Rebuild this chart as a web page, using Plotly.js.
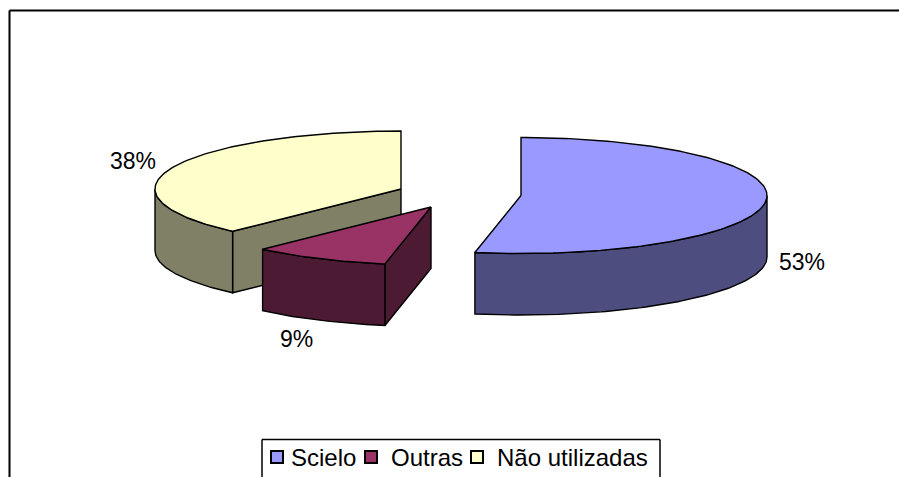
<!DOCTYPE html>
<html>
<head>
<meta charset="utf-8">
<script src="https://cdn.plot.ly/plotly-3.0.1.min.js"></script>
<style>
html,body{margin:0;padding:0;background:#fff;overflow:hidden}
#chart{width:899px;height:477px}
.legend .legendsymbols{transform:translateX(6px)}
</style>
</head>
<body>
<div id="chart"></div>
<script>
var categories = ["Scielo", "Outras", "Não utilizadas"];
var values = [53, 9, 38];
var topColors = ["#9999FF", "#993366", "#FFFFCC"];
var wallColors = ["#4D4D80", "#4D1A33", "#808066"];

// Drawing geometry of the exploded, tilted pie
var apexX = [521, 431, 401];
var apexY = [195.5, 207, 189];
var radiusX = 246, radiusY = 58, depth = 61.5;
var labelX = [802, 296, 133];
var labelY = [262, 339, 161];
var legendX = [251, 351, 457];
var plotBottom = 447;

function pt(i, a, d) {
  return [apexX[i] + radiusX * Math.sin(a), apexY[i] - radiusY * Math.cos(a) + (d || 0)];
}
function arc(i, a0, a1, d) {
  var out = [], n = Math.max(2, Math.ceil(Math.abs(a1 - a0) / 0.02));
  for (var k = 0; k <= n; k++) out.push(pt(i, a0 + (a1 - a0) * k / n, d));
  return out;
}
function face(points, color) {
  return {
    type: "scatter", mode: "lines", fill: "toself", fillcolor: color,
    x: points.map(function (p) { return p[0]; }),
    y: points.map(function (p) { return p[1]; }),
    line: { color: "#000", width: 1.4, shape: "linear" },
    hoverinfo: "skip", showlegend: false
  };
}

var total = values.reduce(function (a, b) { return a + b; }, 0);
var start = [], acc = 0;
values.forEach(function (v) { start.push(acc / total * 2 * Math.PI); acc += v; });
function endOf(i) { return start[i] + values[i] / total * 2 * Math.PI; }

function sliceFaces(i) {
  var a0 = start[i], a1 = endOf(i), fs = [];
  var apex = [apexX[i], apexY[i]], apexLow = [apexX[i], apexY[i] + depth];
  // radial cut wall that faces the viewer
  if (i === 1 || i === 2) {
    var p = pt(i, a0), q = pt(i, a0, depth);
    fs.push(face([apex, p, q, apexLow, apex], wallColors[i]));
  }
  // outer wall: the front half of the rim
  var w0 = Math.max(a0, Math.PI / 2), w1 = Math.min(a1, Math.PI * 1.5);
  if (w1 > w0) {
    var rim = arc(i, w0, w1).concat(arc(i, w1, w0, depth));
    rim.push(rim[0]);
    fs.push(face(rim, wallColors[i]));
  }
  // top
  var top = [apex].concat(arc(i, a0, a1));
  top.push(apex);
  fs.push(face(top, topColors[i]));
  return fs;
}

var traces = [];
[2, 1, 0].forEach(function (i) { traces = traces.concat(sliceFaces(i)); });
var legendKeys = ["legend", "legend2", "legend3"];
categories.forEach(function (c, i) {
  traces.push({
    type: "scatter", mode: "markers", x: [null], y: [null], name: c,
    legend: legendKeys[i],
    marker: { symbol: "square", size: 12, color: topColors[i], line: { color: "#000", width: 2 } },
    showlegend: true
  });
});

var annotations = values.map(function (v, i) {
  return {
    x: labelX[i], y: labelY[i], xref: "x", yref: "y", text: v + "%", showarrow: false,
    font: { family: "Liberation Sans, Arial, sans-serif", size: 23, color: "#000" }
  };
});

function py(pixelY) { return (plotBottom - pixelY) / plotBottom; }
function ln(x0, y0, x1, y1, w) {
  return { type: "line", xref: "x", yref: "paper", x0: x0, y0: py(y0), x1: x1, y1: py(y1),
           line: { color: "#000", width: w } };
}

var layout = {
  width: 899, height: 477,
  margin: { l: 0, r: 0, t: 0, b: 477 - plotBottom, autoexpand: false },
  paper_bgcolor: "#fff", plot_bgcolor: "#fff",
  xaxis: { range: [0, 899], visible: false, fixedrange: true },
  yaxis: { range: [plotBottom, 0], visible: false, fixedrange: true },
  showlegend: true,
  annotations: annotations,
  shapes: [
    ln(9.5, 10.5, 899, 10.5, 2),
    ln(9.5, 10.5, 9.5, 477, 2),
    ln(262, 439.5, 660, 439.5, 1.5),
    ln(262, 439.5, 262, 477, 1.5),
    ln(660, 439.5, 660, 477, 1.5)
  ]
};
legendKeys.forEach(function (k, i) {
  layout[k] = {
    orientation: "h",
    x: legendX[i] / 899, xanchor: "left", y: py(480), yanchor: "bottom",
    bgcolor: "rgba(0,0,0,0)", borderwidth: 0,
    font: { family: "Liberation Sans, Arial, sans-serif", size: 24, color: "#000" },
    itemclick: false, itemdoubleclick: false
  };
});

Plotly.newPlot("chart", traces, layout, { displayModeBar: false, staticPlot: true });
</script>
</body>
</html>
